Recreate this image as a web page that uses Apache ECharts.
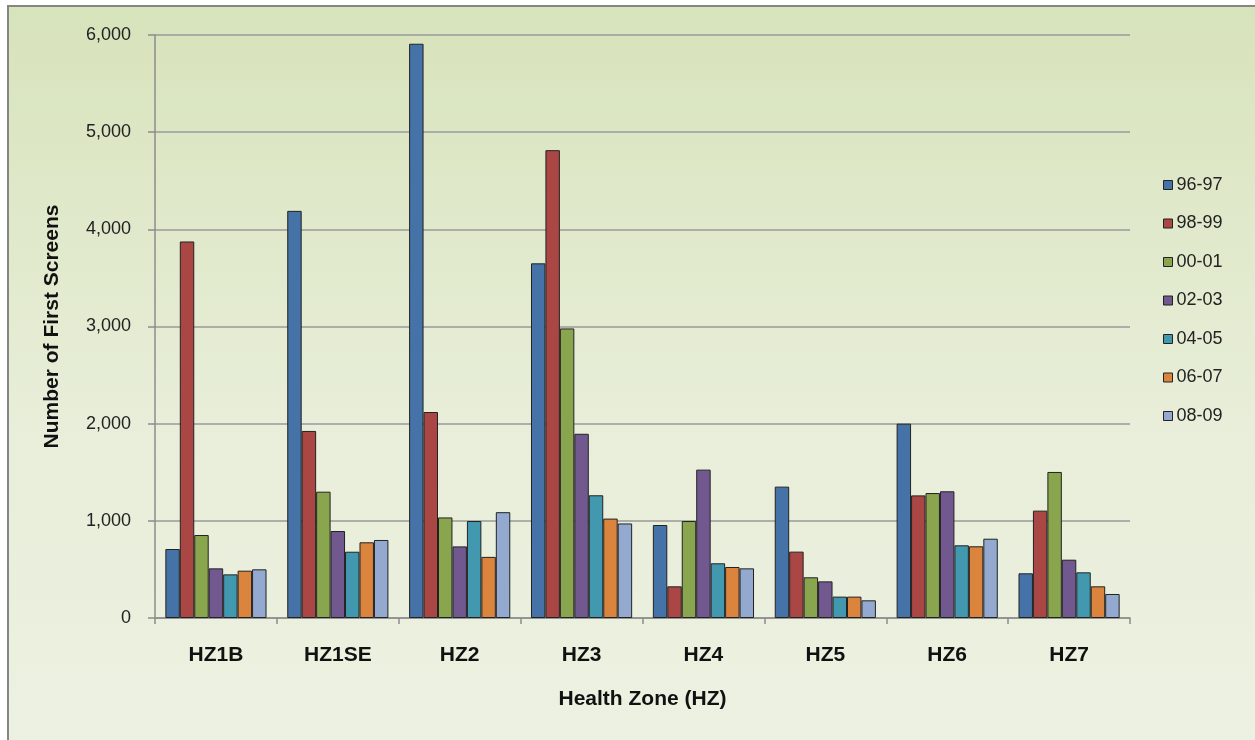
<!DOCTYPE html>
<html>
<head>
<meta charset="utf-8">
<script src="https://cdn.jsdelivr.net/npm/echarts@6/dist/echarts.min.js"></script>
<style>
  html, body { margin: 0; padding: 0; background: #ffffff; }
  #chart { width: 1255px; height: 740px; }
</style>
</head>
<body>
<div id="chart"></div>
<script>
// Health zones along the x axis
const zones = ['HZ1B', 'HZ1SE', 'HZ2', 'HZ3', 'HZ4', 'HZ5', 'HZ6', 'HZ7'];

// Fiscal-year series: number of first screens per health zone
const fy9697 = [710, 4190, 5910, 3650, 957, 1352, 2000, 460];
const fy9899 = [3875, 1925, 2120, 4815, 326, 683, 1262, 1105];
const fy0001 = [854, 1300, 1035, 2980, 998, 419, 1286, 1503];
const fy0203 = [511, 895, 737, 1896, 1527, 377, 1304, 600];
const fy0405 = [449, 682, 998, 1263, 563, 220, 748, 470];
const fy0607 = [487, 779, 629, 1023, 525, 220, 738, 326];
const fy0809 = [501, 803, 1089, 973, 511, 182, 816, 247];

const seriesNames = ['96-97', '98-99', '00-01', '02-03', '04-05', '06-07', '08-09'];
const seriesValues = [fy9697, fy9899, fy0001, fy0203, fy0405, fy0607, fy0809];
const seriesColors = ['#4572A7', '#AA4643', '#89A54E', '#71588F', '#4198AF', '#DB843D', '#93A9CF'];

const font = '"Liberation Sans", Arial, sans-serif';

const chart = echarts.init(document.getElementById('chart'), null, { renderer: 'canvas' });

chart.setOption({
  backgroundColor: '#ffffff',
  animation: false,
  graphic: [{
    type: 'rect',
    z: -10,
    silent: true,
    shape: { x: 8, y: 6, width: 1270, height: 760 },
    style: {
      fill: new echarts.graphic.LinearGradient(0, 0, 0, 1, [
        { offset: 0, color: '#d7e3bb' },
        { offset: 0.55, color: '#e8eed9' },
        { offset: 1, color: '#edf1e2' }
      ]),
      stroke: '#858585',
      lineWidth: 2
    }
  }],
  grid: { left: 155, right: 125, top: 35, bottom: 122 },
  legend: {
    orient: 'vertical',
    left: 1158,
    top: 170,
    icon: 'rect',
    itemWidth: 9,
    itemHeight: 9,
    itemGap: 18.5,
    data: seriesNames,
    itemStyle: { borderColor: '#222', borderWidth: 1 },
    textStyle: { fontFamily: font, fontSize: 18, color: '#222', lineHeight: 20, padding: [0, 0, 0, -1] }
  },
  xAxis: {
    type: 'category',
    data: zones,
    name: 'Health Zone (HZ)',
    nameLocation: 'middle',
    nameGap: 71,
    nameTextStyle: { fontFamily: font, fontSize: 21, fontWeight: 'bold', color: '#111' },
    axisLine: { lineStyle: { color: '#8c8c8c', width: 1.5 } },
    axisTick: { show: true, length: 6, lineStyle: { color: '#8c8c8c', width: 1.5 } },
    axisLabel: { fontFamily: font, fontSize: 21, fontWeight: 'bold', color: '#111', margin: 27 }
  },
  yAxis: {
    type: 'value',
    min: 0,
    max: 6000,
    interval: 1000,
    name: 'Number of First Screens',
    nameLocation: 'middle',
    nameGap: 92,
    nameTextStyle: { fontFamily: font, fontSize: 21, fontWeight: 'bold', color: '#111' },
    axisLine: { show: true, lineStyle: { color: '#8c8c8c', width: 1.5 } },
    axisTick: { show: true, length: 7, lineStyle: { color: '#8c8c8c', width: 1.5 } },
    axisLabel: {
      fontFamily: font, fontSize: 18, color: '#222', margin: 24,
      formatter: v => v.toLocaleString('en-US')
    },
    splitLine: { lineStyle: { color: '#9a9a9a', width: 1.5 } }
  },
  series: seriesNames.map((name, i) => ({
    name: name,
    type: 'bar',
    data: seriesValues[i],
    barGap: '0%',
    barCategoryGap: '17%',
    itemStyle: { color: seriesColors[i], borderColor: '#222', borderWidth: 1 }
  }))
});
</script>
</body>
</html>
